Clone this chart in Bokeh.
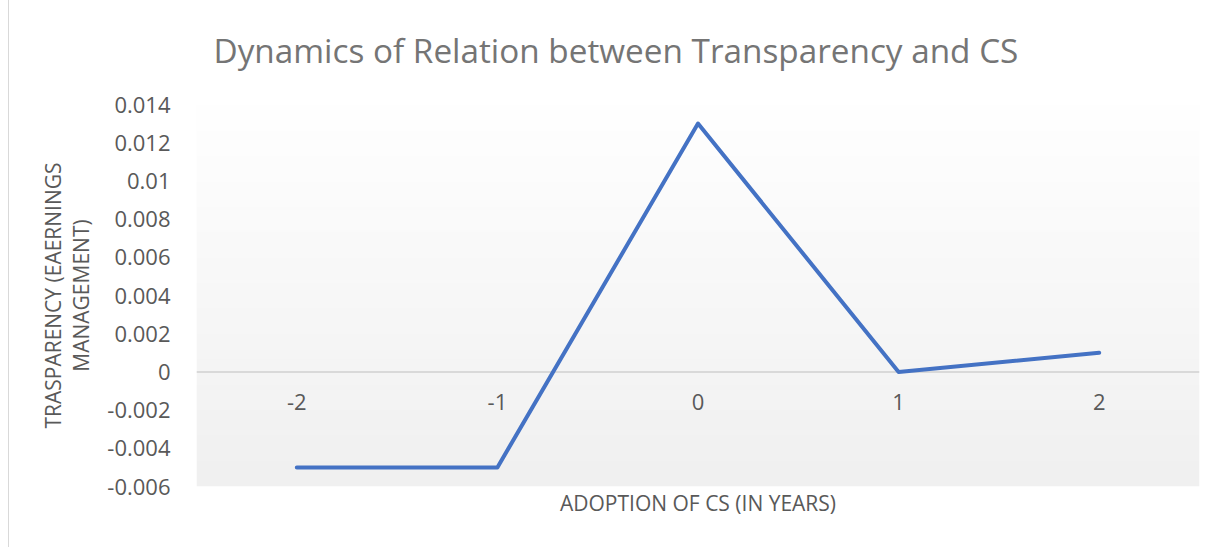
import numpy as np
from bokeh.plotting import figure
from bokeh.models import Range1d, FixedTicker, PrintfTickFormatter, Span
from bokeh.core.properties import value
from bokeh.embed import file_html
from bokeh.resources import INLINE

# ---- data ----
years = [-2, -1, 0, 1, 2]
year_labels = ["-2", "-1", "0", "1", "2"]
transparency = [-0.005, -0.005, 0.013, 0.0, 0.001]
y_ticks = [-0.006, -0.004, -0.002, 0.0, 0.002, 0.004, 0.006, 0.008, 0.01, 0.012, 0.014]

TITLE = "Dynamics of Relation between Transparency and CS"
X_TITLE = "ADOPTION OF CS (IN YEARS)"
Y_TITLE = "TRASPARENCY (EAERNINGS\nMANAGEMENT)"

FONT = "Open Sans"
TXT = "#595959"

X_MIN, X_MAX = -2.5, 2.5
Y_MIN, Y_MAX = -0.006, 0.014

p = figure(width=1210, height=551, output_backend="svg", toolbar_location=None,
           x_range=Range1d(X_MIN, X_MAX), y_range=Range1d(Y_MIN, Y_MAX),
           min_border_left=187, min_border_right=20, min_border_top=107, min_border_bottom=61)
p.styles = {"margin-left": "8px", "margin-top": "-4px",
            "border-left": "1px solid #d9d9d9"}

p.outline_line_color = None
p.background_fill_color = "white"
p.border_fill_color = "white"
p.xgrid.visible = False
p.ygrid.visible = False

# title
p.title.text = TITLE
p.title.align = "left"
p.title.offset = 17
p.title.standoff = 60
p.title.vertical_align = "top"
p.title.text_font = FONT
p.title.text_font_size = "33.3px"
p.title.text_font_style = "normal"
p.title.text_color = "#757575"

# gradient background of plot area
n = 256
g = np.linspace(0xf0, 0xff, n).astype(np.uint32)  # bottom -> top
img = np.empty((n, 1), dtype=np.uint32)
view = img.view(dtype=np.uint8).reshape((n, 1, 4))
view[:, 0, 0] = g
view[:, 0, 1] = g
view[:, 0, 2] = g
view[:, 0, 3] = 255
p.image_rgba(image=[img], x=X_MIN, y=Y_MIN, dw=X_MAX - X_MIN, dh=Y_MAX - Y_MIN, level="image")

# zero axis line
p.add_layout(Span(location=0, dimension="width", line_color="#d9d9d9", line_width=2, level="underlay"))

# series
p.line(years, transparency, line_color="#4472C4", line_width=4,
       line_join="round", line_cap="round")

# category labels next to zero line
p.text(x=years, y=[0] * len(years), text=year_labels, text_font=value(FONT),
       text_font_size="22px", text_color=TXT, text_align="center",
       text_baseline="top", y_offset=22)

# y axis
ya = p.yaxis[0]
ya.ticker = FixedTicker(ticks=y_ticks)
ya.formatter = PrintfTickFormatter(format="%g")
ya.axis_line_color = None
ya.major_tick_line_color = None
ya.minor_tick_line_color = None
ya.major_label_text_font = FONT
ya.major_label_text_font_size = "22px"
ya.major_label_text_color = TXT
ya.major_label_standoff = 20
ya.axis_label = Y_TITLE
ya.axis_label_text_font = FONT
ya.axis_label_text_font_size = "21px"
ya.axis_label_text_font_style = "normal"
ya.axis_label_text_color = TXT
ya.axis_label_text_line_height = 1.0
ya.axis_label_standoff = 9

# x axis: only title
xa = p.xaxis[0]
xa.ticker = FixedTicker(ticks=[])
xa.axis_line_color = None
xa.major_tick_line_color = None
xa.minor_tick_line_color = None
xa.major_label_text_font_size = "0px"
xa.axis_label = X_TITLE
xa.axis_label_text_font = FONT
xa.axis_label_text_font_size = "21px"
xa.axis_label_text_font_style = "normal"
xa.axis_label_text_color = TXT
xa.axis_label_standoff = 2

open("out.html", "w").write(file_html(p, INLINE))
